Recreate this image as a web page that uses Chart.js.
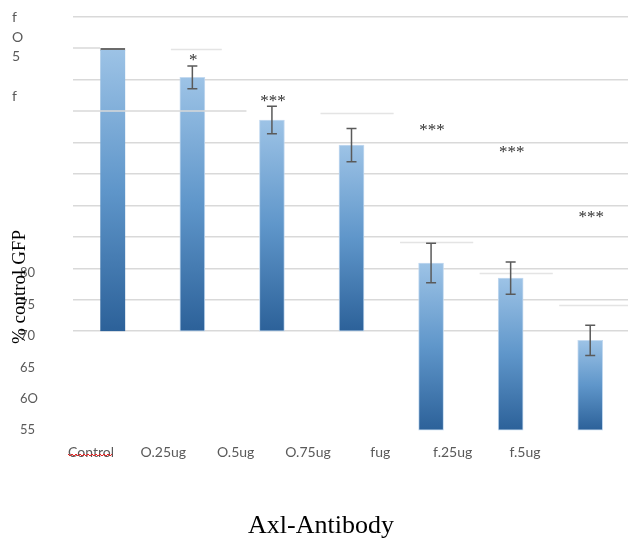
<!DOCTYPE html>
<html>
<head>
<meta charset="utf-8">
<script src="https://cdn.jsdelivr.net/npm/chart.js@4.4.1/dist/chart.umd.min.js"></script>
<style>
  html, body { margin: 0; padding: 0; background: #fff; overflow: hidden; }
  #wrap { position: relative; width: 632px; height: 538px; }
</style>
</head>
<body>
<div id="wrap"><canvas id="c"></canvas></div>
<script>
// GFP-positive cells (% of control) after Axl antibody treatment
const categories   = ['Control', 'O.25ug', 'O.5ug', 'O.75ug', 'fug', 'f.25ug', 'f.5ug'];
const means        = [100, 95.4, 88.6, 84.6, 81.6, 79.2, 69.3];
const errors       = [0, 1.8, 2.2, 2.65, 3.15, 2.55, 2.4];
const significance = ['', '*', '***', '', '***', '***', '***'];
const markLevels   = [null, 98.7, 92.2, null, 87.6, 84.0, 73.7];

// the last three bars (and the lower tick column) are set lower by this many units
const groupDrop = [0, 0, 0, 0, 15.76, 15.76, 15.76];
const tickDrop = 15.76;
const baseline = 55;

// full-width rules, plus two rules that stop part way across
const gridValues      = [55, 60, 65, 70, 75, 80, 85, 95, 105];
const partialRules    = [100, 90];
const partialRuleEnds = [-0.16, 1.68];          // in category units
// short rule pieces carried along with single bars
const pieceCats   = [1, 3, 4, 5, 6];
const pieceLevels = [99.9, 89.8, 85, 80, 75];

const lowerTickValues = [80, 75, 70, 65, 60, 55];
const lowerTickText   = ['80', '75', '70', '65', '6O', '55'];
const upperTickValues = [105, 101.8, 98.7, 92.3];
const upperTickText   = ['f', 'O', '5', 'f'];

const Y_MIN = 38.3, Y_MAX = 105;

const barData = categories.map((c, i) => [baseline - groupDrop[i], means[i] - groupDrop[i]]);

function barFill(ctx) {
  const chart = ctx.chart;
  const y = chart.scales.y;
  if (!y || !Array.isArray(ctx.raw)) return '#5b9bd5';
  const top = y.getPixelForValue(ctx.raw[1]);
  const bot = y.getPixelForValue(ctx.raw[0]);
  if (!isFinite(top) || !isFinite(bot)) return '#5b9bd5';
  const g = chart.ctx.createLinearGradient(0, top, 0, bot);
  g.addColorStop(0, '#9dc3e6');
  g.addColorStop(0.5, '#5f96ca');
  g.addColorStop(1, '#2c6199');
  return g;
}

// the narrow outer tick column may overhang into the next one; keep its glyphs whole
const labelRoom = {
  id: 'labelRoom',
  afterLayout(chart) {
    const s = chart.scales.yTop;
    if (s) s.right = s.left + 16;
  }
};

// partial rules and short rule pieces, drawn over the bars
const rules = {
  id: 'rules',
  afterDatasetsDraw(chart) {
    const { ctx, chartArea } = chart;
    const x = chart.scales.x, y = chart.scales.y;
    ctx.save();
    ctx.lineWidth = 1.5;
    ctx.strokeStyle = '#d9d9d9';
    partialRules.forEach((v, i) => {
      const py = Math.round(y.getPixelForValue(v));
      ctx.beginPath();
      ctx.moveTo(chartArea.left, py);
      ctx.lineTo(x.getPixelForValue(partialRuleEnds[i]), py);
      ctx.stroke();
    });
    ctx.strokeStyle = '#e4e4e4';
    const step = x.getPixelForValue(1) - x.getPixelForValue(0);
    pieceCats.forEach((c, i) => {
      const py = Math.round(y.getPixelForValue(pieceLevels[i] - groupDrop[c])) + 0.5;
      const cx = x.getPixelForValue(c);
      const from = c === 1 ? cx - 0.27 * step : cx - 0.39 * step;
      const to = c === 1 ? cx + 0.37 * step : Math.min(cx + 0.53 * step, chartArea.right);
      ctx.beginPath();
      ctx.moveTo(from, py);
      ctx.lineTo(to, py);
      ctx.stroke();
    });
    ctx.restore();
  }
};

// error bars, significance marks, the spell-check squiggle and the axis caption
const annotations = {
  id: 'annotations',
  afterDraw(chart) {
    const { ctx } = chart;
    const y = chart.scales.y;
    const meta = chart.getDatasetMeta(0);
    ctx.save();
    meta.data.forEach((bar, i) => {
      if (errors[i] > 0) {
        const m = means[i] - groupDrop[i];
        const hi = y.getPixelForValue(m + errors[i]);
        const lo = y.getPixelForValue(m - errors[i]);
        ctx.strokeStyle = '#5a5a5a';
        ctx.lineWidth = 1.5;
        ctx.beginPath();
        ctx.moveTo(bar.x, hi); ctx.lineTo(bar.x, lo);
        ctx.moveTo(bar.x - 5, hi); ctx.lineTo(bar.x + 5, hi);
        ctx.moveTo(bar.x - 5, lo); ctx.lineTo(bar.x + 5, lo);
        ctx.stroke();
      }
      if (significance[i]) {
        ctx.fillStyle = '#333';
        ctx.font = '17px "Liberation Serif"';
        ctx.textAlign = 'center';
        ctx.textBaseline = 'alphabetic';
        ctx.fillText(significance[i], bar.x + 1, y.getPixelForValue(markLevels[i]) + 8.5);
      }
    });

    // red wavy underline below the first category label
    const xl = chart.scales.xl;
    ctx.font = '14px Lato';
    const w = ctx.measureText(categories[0]).width;
    const cx = xl.getPixelForValue(0);
    const yy = 455;
    ctx.strokeStyle = '#e81b1b';
    ctx.lineWidth = 1;
    ctx.beginPath();
    let up = true;
    for (let x = cx - w / 2; x <= cx + w / 2; x += 2) {
      const py = yy + (up ? -1 : 1);
      if (x === cx - w / 2) ctx.moveTo(x, py); else ctx.lineTo(x, py);
      up = !up;
    }
    ctx.stroke();

    // vertical axis caption
    ctx.fillStyle = '#000';
    ctx.font = '19px "Liberation Serif"';
    ctx.textAlign = 'center';
    ctx.textBaseline = 'middle';
    ctx.translate(20, 287);
    ctx.rotate(-Math.PI / 2);
    ctx.fillText('% control GFP', 0, 0);
    ctx.restore();
  }
};

new Chart(document.getElementById('c'), {
  type: 'bar',
  data: {
    labels: categories,
    datasets: [{
      data: barData,
      backgroundColor: barFill,
      borderColor: ctx => ctx.dataIndex === 0 ? '#6b6b6b' : 'rgba(190,214,238,0.9)',
      borderWidth: ctx => ctx.dataIndex === 0
        ? { top: 2, left: 0, right: 0, bottom: 0 }
        : { top: 1, left: 1, right: 1, bottom: 1 },
      borderSkipped: false,
      barThickness: 25
    }]
  },
  options: {
    responsive: true,
    maintainAspectRatio: false,
    animation: false,
    devicePixelRatio: 1,
    layout: { padding: { top: 17, left: 12, right: 2, bottom: 0 } },
    plugins: {
      legend: { display: false },
      tooltip: { enabled: false },
      title: {
        display: true,
        position: 'bottom',
        text: 'Axl-Antibody',
        color: '#000',
        font: { family: '"Liberation Serif"', size: 26, weight: 'normal', lineHeight: 0.92 },
        padding: { top: 0, bottom: 0 }
      }
    },
    scales: {
      x: { display: false, offset: true },
      y: {
        position: 'left', weight: 0, z: 1,
        min: Y_MIN, max: Y_MAX,
        afterBuildTicks(s) { s.ticks = gridValues.map(v => ({ value: v })); },
        ticks: { display: false },
        grid: { color: '#d9d9d9', lineWidth: 1.5, drawTicks: false },
        border: { display: false },
        afterFit(s) { s.width = 0; }
      },
      yTop: {
        position: 'left', weight: 2,
        min: Y_MIN, max: Y_MAX,
        afterBuildTicks(s) { s.ticks = upperTickValues.map(v => ({ value: v })); },
        ticks: {
          autoSkip: false, crossAlign: 'far', color: '#595959', padding: 0,
          font: { family: 'Lato', size: 14 },
          callback: (v, i) => upperTickText[i]
        },
        grid: { display: false, drawTicks: false },
        border: { display: false },
        afterFit(s) { s.width = 8; }
      },
      yLow: {
        position: 'left', weight: 1,
        min: Y_MIN, max: Y_MAX,
        afterBuildTicks(s) { s.ticks = lowerTickValues.map(v => ({ value: v - tickDrop })); },
        ticks: {
          autoSkip: false, crossAlign: 'far', color: '#595959', padding: 0,
          font: { family: 'Lato', size: 13 },
          callback: (v, i) => lowerTickText[i]
        },
        grid: { display: false, drawTicks: false },
        border: { display: false },
        afterFit(s) { s.width = 53; }
      },
      xl: {
        type: 'linear', position: 'bottom', offset: false,
        min: -0.2489, max: 7.452,
        afterBuildTicks(s) { s.ticks = categories.map((c, i) => ({ value: i })); },
        ticks: {
          autoSkip: false, maxRotation: 0, color: '#595959', padding: 8,
          font: { family: 'Lato', size: 14 },
          callback: (v, i) => categories[i]
        },
        grid: { display: false, drawTicks: false, offset: false },
        border: { display: false },
        afterFit(s) { s.height = 78; }
      }
    }
  },
  plugins: [labelRoom, rules, annotations]
});
</script>
</body>
</html>
